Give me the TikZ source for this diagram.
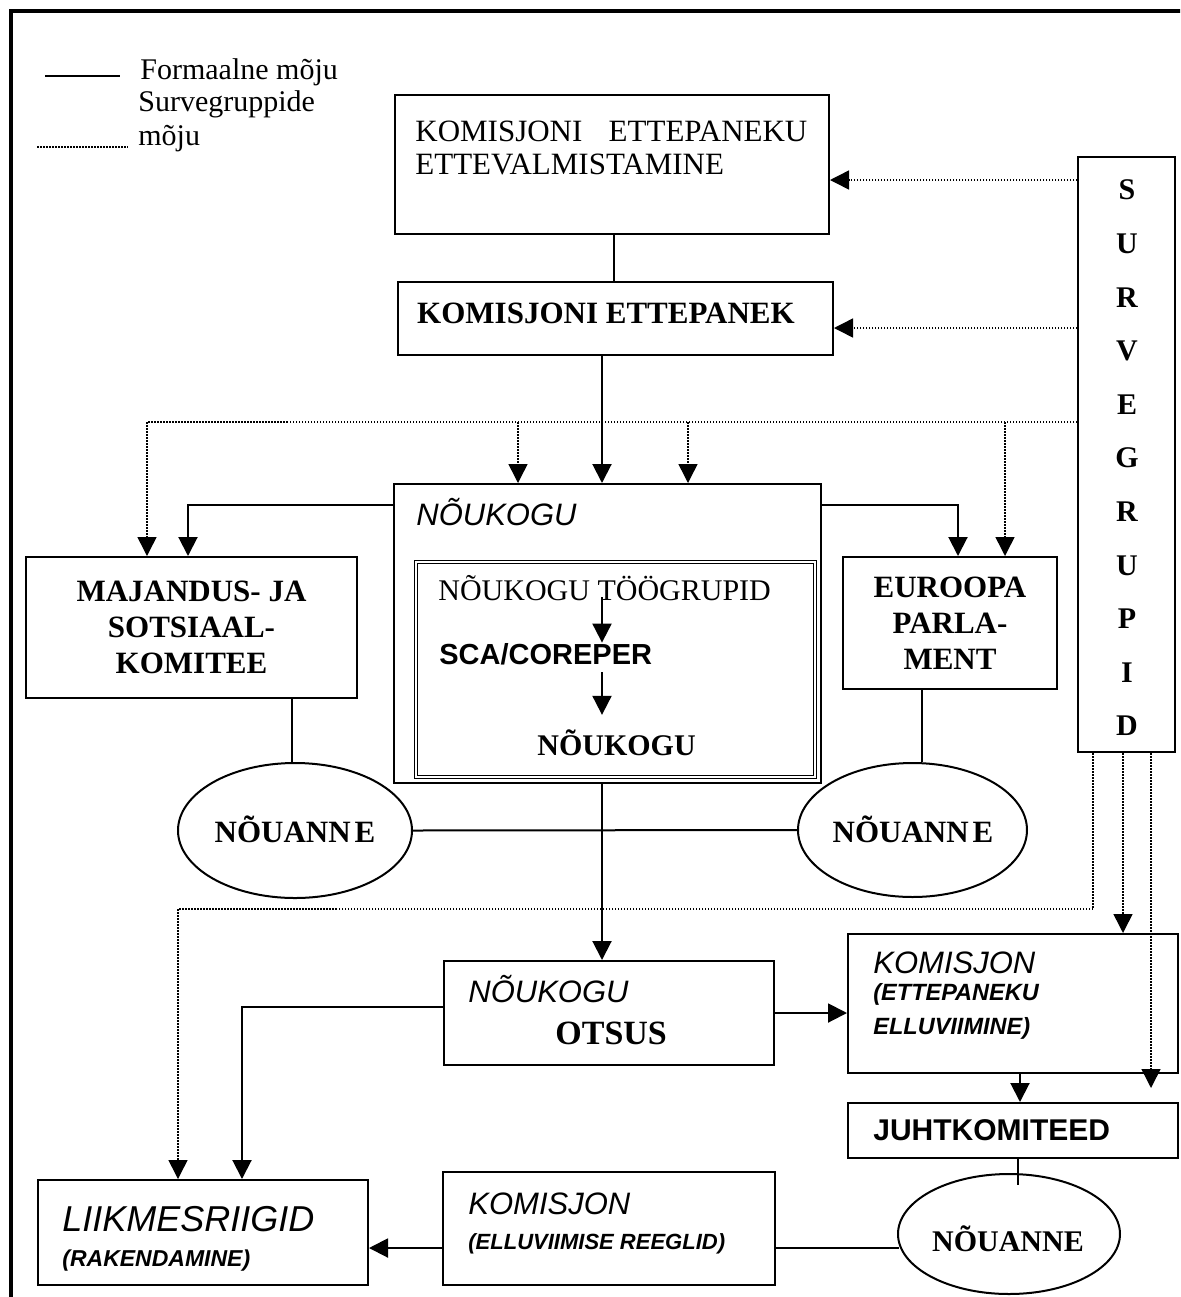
\documentclass[tikz,border=0pt]{standalone}
\usepackage{fontspec}
\setmainfont{Liberation Serif}
\setsansfont{Liberation Sans}
\usetikzlibrary{arrows.meta,shapes.geometric,calc}
\newcommand\fsz[1]{\fontsize{#1}{#1}\selectfont}
\begin{document}
\begin{tikzpicture}[x=0.5pt,y=-0.5pt,
  box/.style={draw, line width=1pt, rectangle, inner sep=0pt},
  dbox/.style={draw, line width=0.5pt, double=white, double distance=0.8pt, rectangle, inner sep=0pt},
  ell/.style={draw, line width=1pt, ellipse, inner sep=0pt},
  txt/.style={inner sep=0pt, anchor=base west},
  ctxt/.style={inner sep=0pt, anchor=base},
  conn/.style={line width=1pt},
  arr/.style={line width=1pt, -{Triangle[width=9.5pt,length=9.5pt]}},
  dot/.style={line width=0.75pt, dash pattern=on 0.75pt off 0.75pt},
  dotarr/.style={dot, -{Triangle[width=9.5pt,length=9.5pt]}},
  serif/.style={font=\fsz{15.5}},
  serifb/.style={font=\bfseries\fsz{15.5}},
  sansi/.style={font=\sffamily\itshape\fsz{15.5}},
  sansbi/.style={font=\sffamily\bfseries\itshape\fsz{11.75}}]
\useasboundingbox (0,0) rectangle (1180,1297);
\clip (0,0) rectangle (1180,1297);
\fill[white] (0,0) rectangle (1180,1297);
% outer frame
\draw[line width=2pt] (11,1320) -- (11,11) -- (1200,11);

% legend
\draw[conn] (45,76) -- (120,76);
\draw[dot] (37,147) -- (128,147);
\node[txt, font=\fsz{15}] (lg1) at (140,79) {Formaalne mõju};
\node[txt, font=\fsz{15}] (lg2) at (138,111) {Survegruppide};
\node[txt, font=\fsz{15}] (lg3) at (138,145) {mõju};

% boxes
\node[box, minimum width=217pt, minimum height=69.5pt] (prep) at (612,164.5) {};
\node[box, minimum width=217.5pt, minimum height=36.5pt] (prop) at (615.5,318.5) {};
\node[box, minimum width=213.5pt, minimum height=149.5pt] (cout) at (607.5,633.5) {};
\node[dbox, minimum width=199.5pt, minimum height=107.5pt] (cin) at (615.5,669.5) {};
\node[box, minimum width=165.5pt, minimum height=70.5pt] (maj) at (191.5,627.5) {};
\node[box, minimum width=107pt, minimum height=66pt] (ep) at (950,623) {};
\node[box, minimum width=48.5pt, minimum height=297.5pt] (sg) at (1126.5,454.5) {};
\node[ell, minimum width=117pt, minimum height=67.5pt] (ellL) at (295,830.5) {};
\node[ell, minimum width=114.5pt, minimum height=67pt] (ellR) at (912.5,830) {};
\node[box, minimum width=165pt, minimum height=52pt] (ots) at (609,1013) {};
\node[box, minimum width=165pt, minimum height=69.5pt] (kome) at (1013,1003.5) {};
\node[box, minimum width=165pt, minimum height=27.5pt] (juht) at (1013,1130.5) {};
\node[ell, minimum width=111pt, minimum height=60pt] (ellB) at (1009,1234) {};
\node[box, minimum width=165pt, minimum height=52.5pt] (liik) at (203,1232.5) {};
\node[box, minimum width=166pt, minimum height=56.5pt] (komr) at (609,1228.5) {};

% texts
\node[txt, serif] (t1a) at (415,141) {\hbox to 196pt{KOMISJONI\hfill ETTEPANEKU}};
\node[txt, serif] (t1b) at (415,174) {ETTEVALMISTAMINE};
\node[ctxt, serifb] (t2) at (606,323) {KOMISJONI ETTEPANEK};
\node[txt, sansi] (t3) at (416,525) {NÕUKOGU};
\node[txt, font=\fsz{15}] (tg) at (438,600) {NÕUKOGU TÖÖGRUPID};
\node[txt, font=\sffamily\bfseries\fsz{14.5}] (sca) at (439,664) {SCA/COREPER};
\node[txt, font=\bfseries\fsz{15}] (nk) at (537,755) {NÕUKOGU};
\node[align=center, font=\bfseries\fontsize{15.5}{18}\selectfont, inner sep=0pt] (tmaj) at (maj) {MAJANDUS- JA\\SOTSIAAL-\\KOMITEE};
\node[align=center, font=\bfseries\fontsize{15.5}{18}\selectfont, inner sep=0pt] (tep) at (ep) {EUROOPA\\PARLA-\\MENT};
\node[align=center, font=\bfseries\fontsize{15}{26.8}\selectfont, inner sep=0pt] (tsg) at (1127,458) {S\\U\\R\\V\\E\\G\\R\\U\\P\\I\\D};
\node[ctxt, serifb] (tel) at (295,842) {NÕUANN\kern2pt E};
\node[ctxt, serifb] (ter) at (913,842) {NÕUANN\kern2pt E};
\node[txt, sansi] (to1) at (468,1002) {NÕUKOGU};
\node[txt, font=\bfseries\fsz{17}] (to2) at (555,1044) {OTSUS};
\node[txt, sansi] (tk1) at (873,973) {KOMISJON};
\node[txt, sansbi] (tk2) at (873,1000) {(ETTEPANEKU};
\node[txt, sansbi] (tk3) at (873,1034) {ELLUVIIMINE)};
\node[txt, font=\sffamily\bfseries\fsz{15}] (tj) at (873,1140) {JUHTKOMITEED};
\node[ctxt, font=\bfseries\fsz{15}] (teb) at (1008,1251) {NÕUANNE};
\node[txt, font=\sffamily\itshape\fsz{18}] (tl1) at (62,1231) {LIIKMESRIIGID};
\node[txt, font=\sffamily\bfseries\itshape\fsz{11.5}] (tl2) at (62,1266) {(RAKENDAMINE)};
\node[txt, sansi] (tr1) at (468,1214) {KOMISJON};
\node[txt, font=\sffamily\bfseries\itshape\fsz{11}] (tr2) at (468,1249) {(ELLUVIIMISE REEGLID)};

% connectors
\coordinate (vx) at (602,0);
\coordinate (hb) at (0,1248);
\draw[conn] (prep.south -| 614,0) -- (prop.north -| 614,0);
\draw[arr] (prop.south -| vx) -- (cout.north -| vx);
\draw[dotarr] (sg.west |- 0,180) -- (prep.east |- 0,180);
\draw[dotarr] (sg.west |- 0,328) -- (prop.east |- 0,328);
\draw[dotarr] (sg.west |- 0,422) -| (maj.north -| 147,0);
\coordinate (d1) at (518,422);
\coordinate (d2) at (688,422);
\coordinate (d3) at (1005,422);
\draw[dotarr] (d1) -- (cout.north -| d1);
\draw[dotarr] (d2) -- (cout.north -| d2);
\draw[dotarr] (d3) -- (ep.north -| d3);
\draw[arr] (cout.west |- 0,505) -| (maj.north -| 188,0);
\draw[arr] (cout.east |- 0,505) -| (ep.north -| 958,0);
\draw[arr] ($(tg.base -| vx)+(0,-3)$) -- (sca.north -| vx);
\draw[arr] ($(sca.base -| vx)+(0,8)$) -- ($(nk.north -| vx)+(0,-14)$);
\draw[conn] (maj.south -| 292,0) -- (ellL.north -| 292,0);
\draw[conn] (ep.south -| 922,0) -- (ellR.north -| 922,0);
\draw[conn] (ellL.east) -- (ellR.west);
\draw[arr] (cout.south -| vx) -- (ots.north -| vx);
\draw[dotarr] (sg.south -| 1093,0) -- (1093,909) -- (178,909) -- (liik.north -| 178,0);
\draw[dotarr] (sg.south -| 1123,0) -- (kome.north -| 1123,0);
\draw[dotarr] (sg.south -| 1151,0) -- ($(juht.north -| 1151,0)+(0,-14)$);
\draw[arr] (ots.west |- 0,1007) -| (liik.north -| 242,0);
\draw[arr] (ots.east |- 0,1013) -- (kome.west |- 0,1013);
\draw[arr] (kome.south -| 1020,0) -- (juht.north -| 1020,0);
\draw[conn] (juht.south -| 1018,0) -- (1018,1185);
\draw[arr] (komr.west |- hb) -- (liik.east |- hb);
\draw[conn] (komr.east |- hb) -- ($(ellB.west |- hb)+(2,0)$);
\end{tikzpicture}
\end{document}
